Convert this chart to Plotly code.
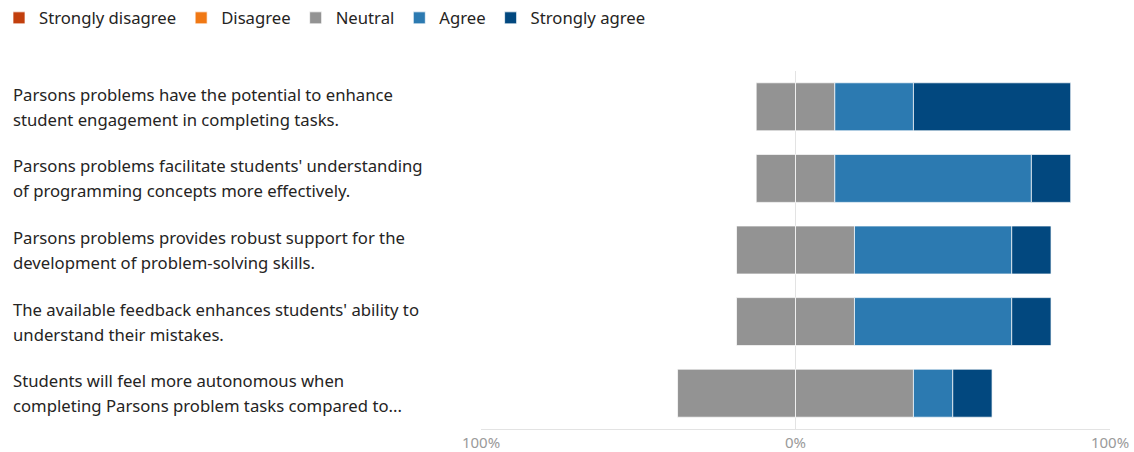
import plotly.graph_objects as go

# Survey statements (two display lines each)
statements = [
    ["Parsons problems have the potential to enhance", "student engagement in completing tasks."],
    ["Parsons problems facilitate students' understanding", "of programming concepts more effectively."],
    ["Parsons problems provides robust support for the", "development of problem-solving skills."],
    ["The available feedback enhances students' ability to", "understand their mistakes."],
    ["Students will feel more autonomous when", "completing Parsons problem tasks compared to..."],
]

# Share of responses per statement (%)
strongly_disagree = [0, 0, 0, 0, 0]
disagree = [0, 0, 0, 0, 0]
neutral = [25, 25, 37.5, 37.5, 75]
agree = [25, 62.5, 50, 50, 12.5]
strongly_agree = [50, 12.5, 12.5, 12.5, 12.5]

colors = {
    "Strongly disagree": "#C23F0D",
    "Disagree": "#F07814",
    "Neutral": "#939393",
    "Agree": "#2C7AB1",
    "Strongly agree": "#02487F",
}

FONT = "Noto Sans"
TEXT_SIZE = 16.7
rows = list(range(len(statements)))
half_neutral = [v / 2 for v in neutral]

fig = go.Figure()
edge = dict(color="rgba(255,255,255,0.7)", width=1)
bar_w = 0.67


def add(name, values, rank, show=True):
    fig.add_trace(go.Bar(
        y=rows, x=values, orientation="h", name=name,
        marker=dict(color=colors[name], line=edge), width=bar_w,
        legendrank=rank, showlegend=show, legendgroup=name,
        hoverinfo="skip",
    ))


# Negative side stacks outward from zero: neutral half, disagree, strongly disagree
add("Neutral", [-v for v in half_neutral], 3, show=False)
add("Disagree", [-v for v in disagree], 2)
add("Strongly disagree", [-v for v in strongly_disagree], 1)
# Positive side: neutral half, agree, strongly agree
add("Neutral", half_neutral, 3)
add("Agree", agree, 4)
add("Strongly agree", strongly_agree, 5)

W, H = 1134, 452
plot_left, plot_right = 481, 1110
plot_top, plot_bottom = 71, 429
plot_w = plot_right - plot_left
plot_h = plot_bottom - plot_top
label_x = (11 - plot_left) / plot_w

for i, lines in enumerate(statements):
    for j, line in enumerate(lines):
        fig.add_annotation(
            x=label_x, xref="paper", xanchor="left",
            y=i, yref="y", yanchor="middle", yshift=12.5 - 25 * j,
            text=line, showarrow=False, align="left",
            font=dict(family=FONT, size=TEXT_SIZE, color="#252423"),
        )

fig.update_layout(
    width=W, height=H,
    margin=dict(l=plot_left, r=W - plot_right, t=plot_top, b=H - plot_bottom,
                autoexpand=False),
    barmode="relative",
    plot_bgcolor="white", paper_bgcolor="white",
    font=dict(family=FONT, size=TEXT_SIZE, color="#252423"),
    legend=dict(
        orientation="h",
        x=(-1 - plot_left) / plot_w, xanchor="left",
        y=1 + (plot_top - 18) / plot_h, yanchor="middle",
        font=dict(family=FONT, size=TEXT_SIZE, color="#252423"),
        traceorder="normal", itemclick=False, itemdoubleclick=False,
        tracegroupgap=0,
    ),
    showlegend=True,
)

fig.update_xaxes(
    range=[-100, 100], tickvals=[-100, 0, 100], ticktext=["100%", "0%", "100%"],
    showgrid=True, gridcolor="#E3E3E3", gridwidth=1,
    zeroline=True, zerolinecolor="#E3E3E3", zerolinewidth=1,
    showline=True, linecolor="#E3E3E3", linewidth=1,
    tickfont=dict(family=FONT, size=15, color="#9A9A9A"),
    ticks="", ticklabelstandoff=0, fixedrange=True,
)
fig.update_yaxes(
    range=[4.5, -0.5], showticklabels=False, showgrid=False, zeroline=False,
    fixedrange=True,
)

fig.write_html("out.html")
